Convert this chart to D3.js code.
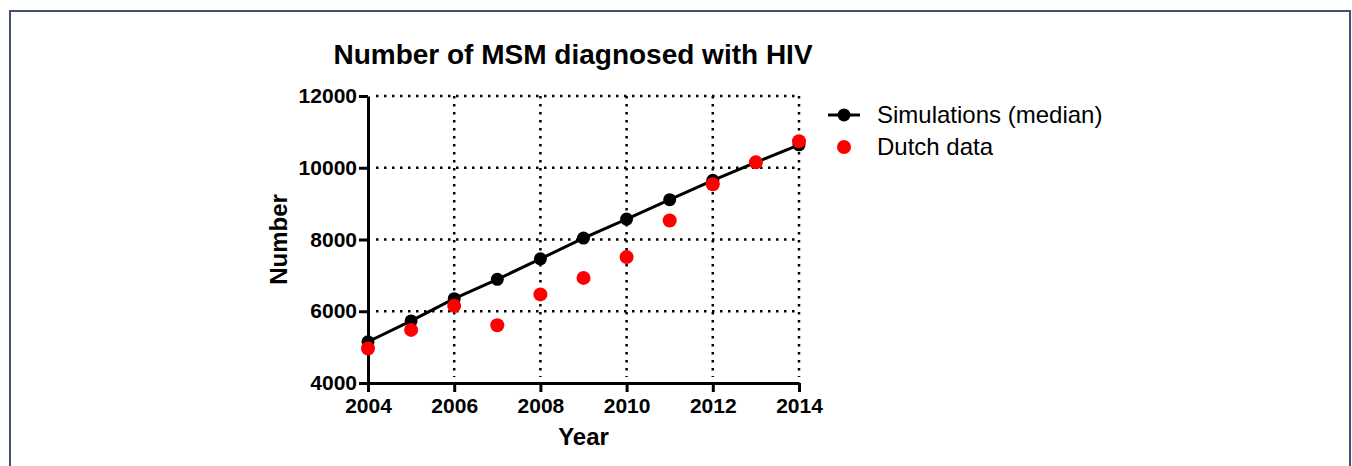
<!DOCTYPE html>
<html>
<head>
<meta charset="utf-8">
<script src="https://cdn.jsdelivr.net/npm/d3@7"></script>
<style>
  html, body { margin: 0; padding: 0; background: #fff; }
  svg { display: block; }
</style>
</head>
<body>
<svg id="chart"></svg>
<script>
const years     = [2004, 2005, 2006, 2007, 2008, 2009, 2010, 2011, 2012, 2013, 2014]
const simMedian = [5150, 5730, 6350, 6890, 7460, 8040, 8570, 9110, 9650, 10150, 10640]
const dutchData = [4960, 5480, 6150, 5610, 6470, 6930, 7510, 8530, 9540, 10150, 10740]
const xTicks    = [2004, 2006, 2008, 2010, 2012, 2014]
const yTicks    = [4000, 6000, 8000, 10000, 12000]

const W = 1352, H = 466
const FONT = 'Liberation Sans, Arial, sans-serif'

const svg = d3.select('#chart').attr('width', W).attr('height', H)

// outer frame (no bottom edge)
svg.append('path')
  .attr('d', `M10,${H} V11 H1350 V${H}`)
  .attr('fill', 'none')
  .attr('stroke', '#43506c')
  .attr('stroke-width', 2)

const x = d3.scaleLinear().domain([2004, 2014]).range([368, 799])
const y = d3.scaleLinear().domain([4000, 12000]).range([383, 96])

// dotted grid
const grid = svg.append('g')
  .attr('stroke', '#000')
  .attr('stroke-width', 2.5)
  .attr('stroke-dasharray', '2.5 5.5')
grid.selectAll('.h')
  .data(yTicks.slice(1))
  .join('line')
    .attr('x1', x(2004) + 8).attr('x2', x(2014))
    .attr('y1', d => y(d)).attr('y2', d => y(d))
grid.selectAll('.v')
  .data(xTicks.slice(1))
  .join('line')
    .attr('x1', d => x(d)).attr('x2', d => x(d))
    .attr('y1', y(12000)).attr('y2', y(4000) - 6)

// axes
const xAxis = svg.append('g')
  .attr('transform', `translate(0,${y(4000)})`)
  .call(d3.axisBottom(x).tickValues(xTicks).tickFormat(d3.format('d')).tickSize(9).tickSizeOuter(0))
const yAxis = svg.append('g')
  .attr('transform', `translate(${x(2004)},0)`)
  .call(d3.axisLeft(y).tickValues(yTicks).tickFormat(d3.format('d')).tickSize(9).tickSizeOuter(0))

;[xAxis, yAxis].forEach(g => {
  g.select('.domain').attr('stroke', '#000').attr('stroke-width', 3)
  g.selectAll('.tick line').attr('stroke', '#000').attr('stroke-width', 3)
  g.selectAll('.tick text')
    .attr('fill', '#000')
    .attr('font-family', FONT)
    .attr('font-weight', 'bold')
    .attr('font-size', '21px')
})
xAxis.selectAll('.tick text').attr('dy', '0.95em').attr('y', 10)
yAxis.selectAll('.tick text').attr('x', -11)

// simulations line + markers
const pts = years.map((yr, i) => ({ yr, sim: simMedian[i], dutch: dutchData[i] }))
svg.append('path')
  .datum(pts)
  .attr('fill', 'none')
  .attr('stroke', '#000')
  .attr('stroke-width', 3)
  .attr('d', d3.line().x(d => x(d.yr)).y(d => y(d.sim)))
svg.append('g')
  .selectAll('circle')
  .data(pts)
  .join('circle')
    .attr('cx', d => x(d.yr))
    .attr('cy', d => y(d.sim))
    .attr('r', 6.5)
    .attr('fill', '#000')

// Dutch data
svg.append('g')
  .selectAll('circle')
  .data(pts)
  .join('circle')
    .attr('cx', d => x(d.yr))
    .attr('cy', d => y(d.dutch))
    .attr('r', 7)
    .attr('fill', '#ff0000')

// titles
svg.append('text')
  .attr('x', 573).attr('y', 64)
  .attr('text-anchor', 'middle')
  .attr('font-family', FONT).attr('font-weight', 'bold').attr('font-size', '28px')
  .text('Number of MSM diagnosed with HIV')
svg.append('text')
  .attr('x', (x(2004) + x(2014)) / 2).attr('y', 445)
  .attr('text-anchor', 'middle')
  .attr('font-family', FONT).attr('font-weight', 'bold').attr('font-size', '24px')
  .text('Year')
svg.append('text')
  .attr('transform', `translate(287,${(y(4000) + y(12000)) / 2}) rotate(-90)`)
  .attr('text-anchor', 'middle')
  .attr('font-family', FONT).attr('font-weight', 'bold').attr('font-size', '24px')
  .text('Number')

// legend
const legend = svg.append('g').attr('font-family', FONT).attr('font-size', '24px')
legend.append('line')
  .attr('x1', 828).attr('x2', 860).attr('y1', 115).attr('y2', 115)
  .attr('stroke', '#000').attr('stroke-width', 3)
legend.append('circle').attr('cx', 844).attr('cy', 115).attr('r', 6.5).attr('fill', '#000')
legend.append('text').attr('x', 877).attr('y', 115).attr('dy', '0.35em').text('Simulations (median)')
legend.append('circle').attr('cx', 844).attr('cy', 147).attr('r', 7).attr('fill', '#ff0000')
legend.append('text').attr('x', 877).attr('y', 147).attr('dy', '0.35em').text('Dutch data')
</script>
</body>
</html>
